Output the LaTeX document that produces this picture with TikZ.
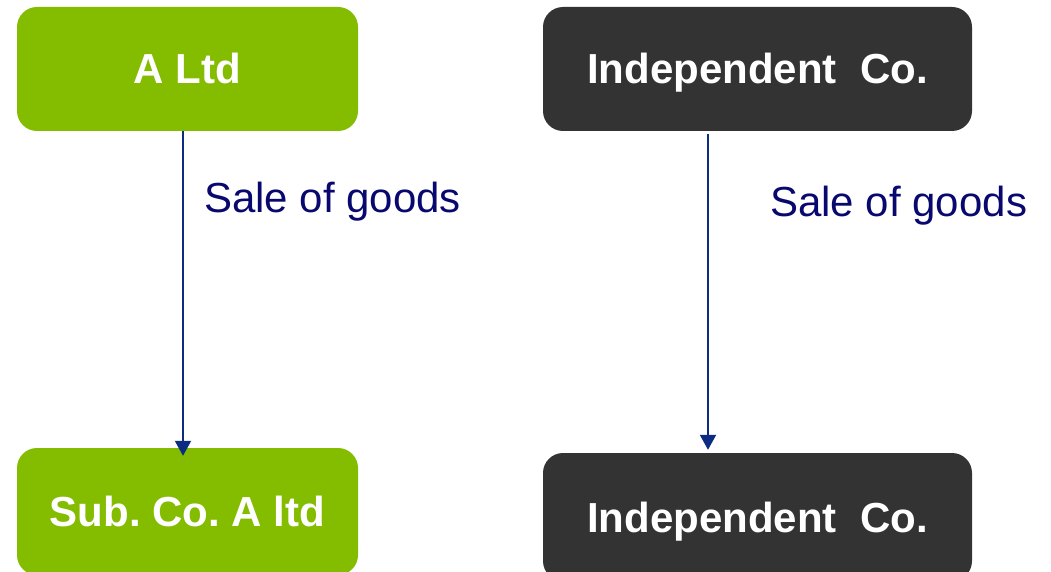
\documentclass[tikz,border=0pt]{standalone}
\usepackage{fontspec}
\setmainfont{Liberation Sans}
\usetikzlibrary{arrows.meta}
\definecolor{boxgreen}{HTML}{84BC00}
\definecolor{boxdark}{HTML}{333333}
\definecolor{labnavy}{HTML}{08086E}
\definecolor{arrnavy}{HTML}{0B2C80}
\frenchspacing
\tikzset{
  company/.style={rounded corners=20pt, inner sep=0pt, text=white,
    font=\fontsize{42}{48}\selectfont\bfseries, text height=30pt, text depth=0pt},
  greenbox/.style={company, fill=boxgreen, minimum width=341pt},
  darkbox/.style={company, fill=boxdark, minimum width=429pt},
  flow/.style={draw=arrnavy, line width=2pt, -{Triangle[length=15pt,width=16pt]}},
  flowlabel/.style={text=labnavy, font=\fontsize{42}{48}\selectfont, inner sep=0pt, anchor=base west}
}
\begin{document}
\begin{tikzpicture}[x=1pt,y=-1pt]
\useasboundingbox (0,0) rectangle (1051,572);
\clip (0,0) rectangle (1051,572);
\node[greenbox, minimum height=124pt] (altd) at (187.5,69) {A Ltd};
\node[greenbox, minimum height=127pt] (sub) at (187.5,511.5) {Sub. Co. A ltd};
\node[darkbox, minimum height=124pt] (indtop) at (757.5,69) {Independent~~Co.};
\node[darkbox, minimum height=128pt] (indbot) at (757.5,517) {Independent~~Co.};
\draw[flow] ([xshift=-4.5pt]altd.south) -- ([xshift=-4.5pt,yshift=-8pt]sub.north);
\draw[flow] ([xshift=-49.5pt,yshift=-3pt]indtop.south) -- ([xshift=-49.5pt,yshift=3pt]indbot.north);
\node[flowlabel] (lab1) at (204,212) {Sale of goods};
\node[flowlabel] (lab2) at (770,216) {Sale of goods};
\end{tikzpicture}
\end{document}
